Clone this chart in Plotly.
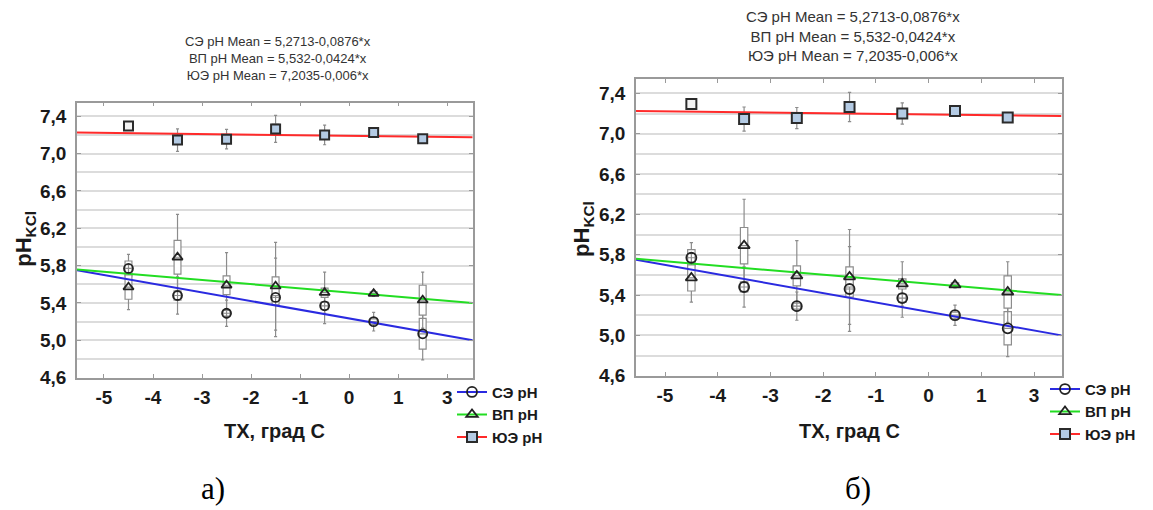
import plotly.graph_objects as go

# ---------------- data ----------------
x_pos = [-4.5, -3.5, -2.5, -1.5, -0.5, 0.5, 1.5]

se_mean = [5.77, 5.48, 5.29, 5.46, 5.37, 5.20, 5.07]
se_box = [0.08, 0.05, 0.03, 0.08, 0.04, 0.03, 0.165]
se_whisk = [0.15, 0.20, 0.14, 0.42, 0.19, 0.10, 0.28]

vp_mean = [5.57, 5.89, 5.59, 5.58, 5.51, 5.50, 5.43]
vp_box = [0.13, 0.18, 0.10, 0.10, 0.05, 0.02, 0.16]
vp_whisk = [0.24, 0.46, 0.35, 0.47, 0.22, 0.03, 0.30]

ue_mean = [7.295, 7.145, 7.155, 7.265, 7.20, 7.225, 7.16]
ue_box = [0.0, 0.04, 0.04, 0.05, 0.04, 0.02, 0.02]
ue_whisk = [0.0, 0.12, 0.105, 0.145, 0.105, 0.03, 0.02]

fit_x = [-5.55, 2.52]
se_fit = [5.75, 5.00]
vp_fit = [5.76, 5.40]
ue_fit = [7.225, 7.176]

series_names = ["СЭ pH", "ВП pH", "ЮЭ pH"]
eq_lines = ["СЭ pH Mean = 5,2713-0,0876*x",
            "ВП pH Mean = 5,532-0,0424*x",
            "ЮЭ pH Mean = 7,2035-0,006*x"]

x_tickvals = [-5, -4, -3, -2, -1, 0, 1, 2]
x_ticktext = ["-5", "-4", "-3", "-2", "-1", "0", "1", "3"]
y_tickvals = [4.6, 5.0, 5.4, 5.8, 6.2, 6.6, 7.0, 7.4]
y_ticktext = ["4,6", "5,0", "5,4", "5,8", "6,2", "6,6", "7,0", "7,4"]

panel_labels = ["а)", "б)"]

# ---------------- styles ----------------
FONT = "Liberation Sans, Arial, sans-serif"
line_colors = ["#2a2ae0", "#22dd22", "#ff2a2a"]
symbols = ["circle-open", "triangle-up-open", "square"]
ue_fill = ["#f4f4f4"] + ["#b4cbe4"] * 6

fig = go.Figure()

means = [se_mean, vp_mean, ue_mean]
boxes = [se_box, vp_box, ue_box]
whisks = [se_whisk, vp_whisk, ue_whisk]
fits = [se_fit, vp_fit, ue_fit]


def add_panel(xa, ya, legend_name, msize):
    # boxes + whiskers
    for m, b, w in zip(means, boxes, whisks):
        fig.add_trace(go.Box(
            x=x_pos,
            q1=[mi - bi for mi, bi in zip(m, b)],
            median=m,
            q3=[mi + bi for mi, bi in zip(m, b)],
            lowerfence=[mi - wi for mi, wi in zip(m, w)],
            upperfence=[mi + wi for mi, wi in zip(m, w)],
            width=0.14, whiskerwidth=0.45,
            fillcolor="white", line=dict(color="#8c8c8c", width=1.2),
            boxpoints=False, showlegend=False, hoverinfo="skip",
            xaxis=xa, yaxis=ya))
    # regression lines
    for f, c in zip(fits, line_colors):
        fig.add_trace(go.Scatter(
            x=fit_x, y=f, mode="lines", line=dict(color=c, width=2),
            showlegend=False, hoverinfo="skip", xaxis=xa, yaxis=ya))
    # means
    for i, m in enumerate(means):
        if i == 2:
            mk = dict(symbol="square", size=msize, color=ue_fill,
                      line=dict(color="#2b2b2b", width=2))
        else:
            mk = dict(symbol=symbols[i], size=msize, color="#222222",
                      line=dict(width=1.8))
        fig.add_trace(go.Scatter(
            x=x_pos, y=m, mode="markers", marker=mk,
            showlegend=False, xaxis=xa, yaxis=ya))
    # legend entries
    for i, name in enumerate(series_names):
        if i == 2:
            mk = dict(symbol="square", size=10, color="#b4cbe4",
                      line=dict(color="#2b2b2b", width=2))
        else:
            mk = dict(symbol=symbols[i], size=10, color="#222222",
                      line=dict(width=1.8))
        fig.add_trace(go.Scatter(
            x=[None], y=[None], mode="lines+markers", name=name,
            line=dict(color=line_colors[i], width=2), marker=mk,
            legend=legend_name, xaxis=xa, yaxis=ya))


add_panel("x", "y", "legend", 9)
add_panel("x2", "y2", "legend2", 10)

W, H = 1153, 510


def px(x):
    return x / W


def py(y):
    return (H - y) / H


xaxis_common = dict(
    range=[fit_x[0], fit_x[1]], tickvals=x_tickvals, ticktext=x_ticktext,
    ticks="inside", ticklen=4, tickcolor="#9a9a9a", showline=True,
    linecolor="#9a9a9a", linewidth=1.5, mirror="ticks", showgrid=False,
    zeroline=False, ticklabelstandoff=2,
    tickfont=dict(family=FONT, size=19, color="#1a1a1a", weight="bold"))
yaxis_common = dict(
    range=[4.6, 7.545], tickvals=y_tickvals, ticktext=y_ticktext,
    ticks="inside", ticklen=4, tickcolor="#9a9a9a", showline=True,
    linecolor="#9a9a9a", linewidth=1.5, mirror="ticks", showgrid=True,
    gridcolor="#dcdcdc", gridwidth=1.5, zeroline=False, ticklabelstandoff=5,
    minor=dict(dtick=0.2, tick0=4.6, showgrid=True, gridcolor="#dcdcdc",
               gridwidth=1.5, ticks=""),
    tickfont=dict(family=FONT, size=19, color="#1a1a1a", weight="bold"))

legend_common = dict(
    bgcolor="rgba(0,0,0,0)", borderwidth=0, itemwidth=30,
    xanchor="left", yanchor="top", tracegroupgap=0,
    font=dict(family=FONT, size=15, color="#1a1a1a", weight="bold"))

fig.update_layout(
    width=W, height=H, margin=dict(l=0, r=0, t=0, b=0),
    paper_bgcolor="white", plot_bgcolor="white", boxmode="overlay",
    xaxis=dict(domain=[px(77), px(472.7)], anchor="y", **xaxis_common),
    yaxis=dict(domain=[py(386), py(105)], anchor="x", **yaxis_common),
    xaxis2=dict(domain=[px(636), px(1061.5)], anchor="y2", **xaxis_common),
    yaxis2=dict(domain=[py(384), py(80.5)], anchor="x2", **yaxis_common),
    legend=dict(x=px(452), y=py(384), **legend_common),
    legend2=dict(x=px(1045), y=py(381), **legend_common),
)

annotations = []


def note(cx, cy, text, font, angle=0):
    annotations.append(dict(
        x=px(cx), y=py(cy), xref="paper", yref="paper", showarrow=False,
        xanchor="center", yanchor="middle", text=text, textangle=angle,
        align="center", font=font))


# equation titles
note(278, 60, "<br>".join(eq_lines), dict(family=FONT, size=13, color="#333333"))
note(853, 36.5, "<br>".join(eq_lines), dict(family=FONT, size=15, color="#333333"))
# y titles
for cx, cy in [(25, 244), (583, 234)]:
    note(cx, cy, "pH<sub>KCl</sub>",
         dict(family=FONT, size=22, color="#1a1a1a", weight="bold"), -90)
# x titles
for cx, cy in [(274, 441), (849, 441)]:
    note(cx, cy, "ТХ, град С",
         dict(family=FONT, size=20, color="#1a1a1a", weight="bold"))
# panel labels
for cx, lab in zip([213, 858], panel_labels):
    note(cx, 499, lab,
         dict(family="Liberation Serif, Times New Roman, serif", size=31,
              color="#000000"))

fig.update_layout(annotations=annotations)

fig.write_html("out.html")
